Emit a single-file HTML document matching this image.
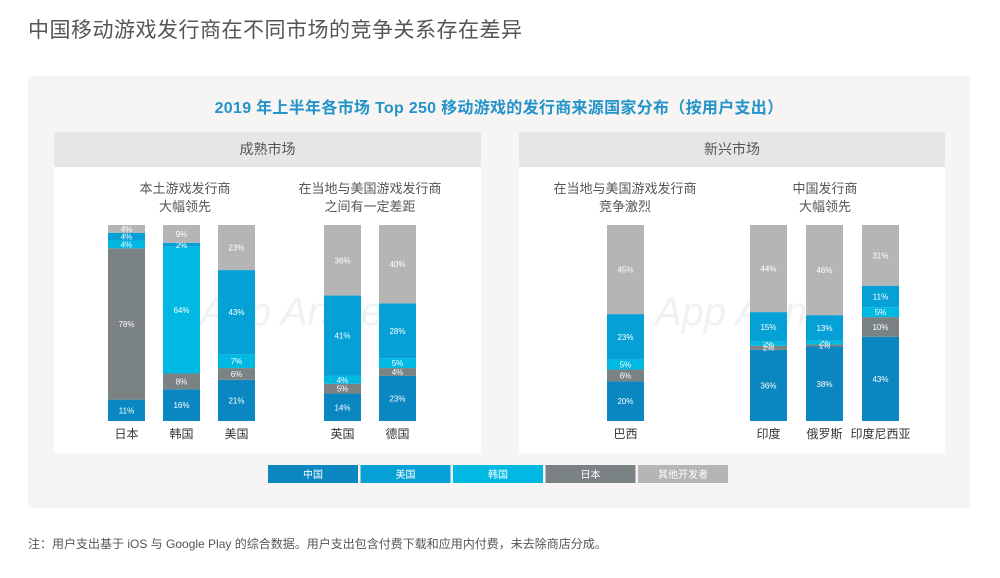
<!DOCTYPE html>
<html><head><meta charset="utf-8"><style>
body{margin:0;width:1000px;height:578px;background:#fff;font-family:"Liberation Sans","Noto Sans CJK SC",sans-serif;position:relative;overflow:hidden}
.a{position:absolute}
</style></head><body>
<div class="a" style="left:28px;top:14px;font-size:21px;color:#555;letter-spacing:0.5px">中国移动游戏发行商在不同市场的竞争关系存在差异</div>
<div class="a" style="left:28px;top:76px;width:942px;height:432px;background:#f6f5f4"></div>
<div class="a" style="left:28px;top:94px;width:942px;text-align:center;font-size:16px;font-weight:bold;color:#2393c9;letter-spacing:0.3px">2019 年上半年各市场 Top 250 移动游戏的发行商来源国家分布（按用户支出）</div>
<div class="a" style="left:54px;top:132px;width:427px;height:321px;background:#fff"></div>
<div class="a" style="left:54px;top:132px;width:427px;height:35px;line-height:35px;background:#e6e6e6;text-align:center;font-size:14px;color:#555">成熟市场</div>
<div class="a" style="left:519px;top:132px;width:426px;height:321px;background:#fff"></div>
<div class="a" style="left:519px;top:132px;width:426px;height:35px;line-height:35px;background:#e6e6e6;text-align:center;font-size:14px;color:#555">新兴市场</div>
<div class="a" style="left:90px;top:180px;width:190px;text-align:center;font-size:13px;line-height:18px;color:#555">本土游戏发行商<br>大幅领先</div>
<div class="a" style="left:275px;top:180px;width:190px;text-align:center;font-size:13px;line-height:18px;color:#555">在当地与美国游戏发行商<br>之间有一定差距</div>
<div class="a" style="left:530px;top:180px;width:190px;text-align:center;font-size:13px;line-height:18px;color:#555">在当地与美国游戏发行商<br>竞争激烈</div>
<div class="a" style="left:730px;top:180px;width:190px;text-align:center;font-size:13px;line-height:18px;color:#555">中国发行商<br>大幅领先</div>
<div class="a" style="left:200px;top:290px;font-size:40px;font-style:italic;color:#eef2f4">App Annie</div>
<div class="a" style="left:655px;top:290px;font-size:40px;font-style:italic;color:#eef2f4">App Annie</div>
<svg class="a" style="left:0;top:0" width="1000" height="578" id="chart"></svg>
<div class="a" style="left:28px;top:535px;font-size:12px;color:#555">注：用户支出基于 iOS 与 Google Play 的综合数据。用户支出包含付费下载和应用内付费，未去除商店分成。</div>
<script>
const categories=["日本","韩国","美国","英国","德国","巴西","印度","俄罗斯","印度尼西亚"];
const seriesNames=["中国","日本","韩国","美国","其他开发者"];
const china=[11,16,21,14,23,20,36,38,43];
const japan=[78,8,6,5,4,6,2,1,10];
const korea=[4,64,7,4,5,5,2,2,5];
const usa=[4,2,43,41,28,23,15,13,11];
const others=[4,9,23,36,40,45,44,46,31];
const barX=[108,163,218,324,379,607,750,806,862];
const colors=["#0a87c0","#7b8283","#00b9e3","#05a0d6","#b5b5b5"];
const series=[china,japan,korea,usa,others];
const svg=document.getElementById('chart');
const NS="http://www.w3.org/2000/svg";
const bottom=421, total=196, bw=37;
function y(v,sum){return v/sum*total;}
categories.forEach((c,i)=>{
  let sum=0;series.forEach(s=>sum+=s[i]);
  let cur=bottom;
  series.forEach((s,k)=>{
    const h=y(s[i],sum);
    const r=document.createElementNS(NS,'rect');
    r.setAttribute('x',barX[i]);r.setAttribute('y',cur-h);r.setAttribute('width',bw);r.setAttribute('height',h);
    r.setAttribute('fill',colors[k]);
    
    
    svg.appendChild(r);
    const t=document.createElementNS(NS,'text');
    t.setAttribute('x',barX[i]+bw/2);t.setAttribute('y',cur-h/2+3);
    t.setAttribute('text-anchor','middle');t.setAttribute('font-size','8');t.setAttribute('fill','#fff');
    t.textContent=s[i]+'%';
    
    
    svg.appendChild(t);
    cur-=h;
  });
  const l=document.createElementNS(NS,'text');
  l.setAttribute('x',barX[i]+bw/2);l.setAttribute('y',438);l.setAttribute('text-anchor','middle');
  l.setAttribute('font-size','12');l.setAttribute('fill','#333');
  l.textContent=c;
  
  
  svg.appendChild(l);
});
const legendNames=["中国","美国","韩国","日本","其他开发者"];
const legendColors=["#0a87c0","#05a0d6","#00b9e3","#7b8283","#b5b5b5"];
legendNames.forEach((n,i)=>{
  const x=268+i*92.5;
  const r=document.createElementNS(NS,'rect');
  r.setAttribute('x',x);r.setAttribute('y',465);r.setAttribute('width',90);r.setAttribute('height',18);r.setAttribute('fill',legendColors[i]);
  
  
  svg.appendChild(r);
  const t=document.createElementNS(NS,'text');
  t.setAttribute('x',x+45);t.setAttribute('y',478);t.setAttribute('text-anchor','middle');t.setAttribute('font-size','10');t.setAttribute('fill','#fff');
  t.textContent=n;
  
  
  svg.appendChild(t);
});
</script>
</body></html>
